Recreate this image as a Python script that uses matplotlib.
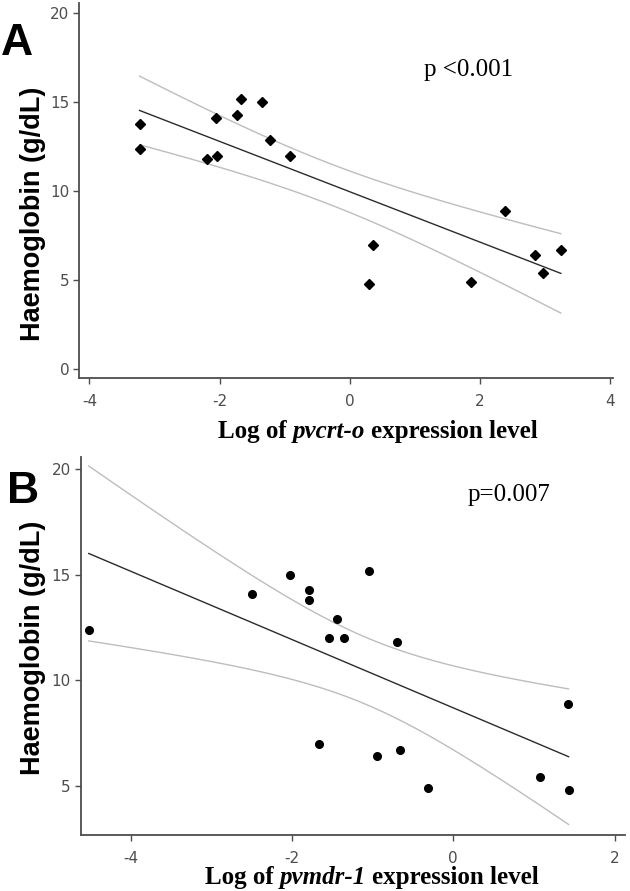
import numpy as np
import matplotlib.pyplot as plt

plt.rcParams['axes.unicode_minus'] = False

# panel A: log pvcrt-o expression vs haemoglobin
crt_x = [-3.23, -3.22, -2.20, -2.05, -2.04, -1.73, -1.67, -1.35, -1.22, -0.92,
         0.30, 0.36, 1.86, 2.39, 2.84, 2.97, 3.24]
crt_hb = [13.8, 12.4, 11.8, 14.1, 12.0, 14.3, 15.2, 15.0, 12.9, 12.0,
          4.8, 7.0, 4.9, 8.9, 6.4, 5.4, 6.7]

# panel B: log pvmdr-1 expression vs haemoglobin
mdr_x = [-4.52, -2.49, -2.03, -1.79, -1.79, -1.66, -1.54, -1.44, -1.35, -1.05,
         -0.94, -0.70, -0.66, -0.31, 1.07, 1.42, 1.43]
mdr_hb = [12.4, 14.1, 15.0, 14.3, 13.8, 7.0, 12.0, 12.9, 12.0, 15.2,
          6.4, 11.8, 6.7, 4.9, 5.4, 8.9, 4.8]

ticks_A_x = [-4, -2, 0, 2, 4]
ticks_A_y = [0, 5, 10, 15, 20]
ticks_B_x = [-4, -2, 0, 2]
ticks_B_y = [5, 10, 15, 20]

T_CRIT = 2.131  # t(0.975, df=15)

tick_font = ['Liberation Sans Narrow', 'DejaVu Sans']
axis_grey = '#4d4d4d'


def fit_band(x, y, n=120):
    x = np.asarray(x)
    y = np.asarray(y)
    slope, icpt = np.polyfit(x, y, 1)
    resid = y - (icpt + slope * x)
    s = np.sqrt(np.sum(resid ** 2) / (len(x) - 2))
    xs = np.linspace(x.min(), x.max(), n)
    yhat = icpt + slope * xs
    se = s * np.sqrt(1 / len(x) + (xs - x.mean()) ** 2 / np.sum((x - x.mean()) ** 2))
    return xs, yhat, yhat - T_CRIT * se, yhat + T_CRIT * se


def style_axes(ax, xt, yt, xlim, ylim):
    for side in ['top', 'right']:
        ax.spines[side].set_visible(False)
    for side in ['left', 'bottom']:
        ax.spines[side].set_color(axis_grey)
        ax.spines[side].set_linewidth(1.3)
    ax.set_xticks(xt)
    ax.set_yticks(yt)
    ax.set_xlim(*xlim)
    ax.set_ylim(*ylim)
    ax.tick_params(direction='out', length=4, width=1, color=axis_grey,
                   labelcolor=axis_grey, labelsize=11, pad=3)
    ax.tick_params(axis='x', pad=7)
    for lab in ax.get_xticklabels() + ax.get_yticklabels():
        lab.set_family(tick_font)


def draw_panel(ax, x, y, marker, ms):
    xs, yhat, lo, hi = fit_band(x, y)
    ax.plot(xs, hi, color='#bdbdbd', lw=1)
    ax.plot(xs, lo, color='#bdbdbd', lw=1)
    ax.plot(xs, yhat, color='#2b2b2b', lw=1)
    ax.plot(x, y, linestyle='none', marker=marker, ms=ms, color='black')


def xlabel(fig, gene, cx, base_y):
    # bold serif label with the gene name in bold italic, centred at cx (pixels)
    parts = [('Log of', 'normal'), (gene, 'italic'), ('expression level', 'normal')]
    gap = 6
    texts = []
    for s, st in parts:
        t = fig.text(0, base_y / 891, s, family='Liberation Serif', weight='bold',
                     style=st, size=18, va='baseline', ha='left')
        texts.append(t)
    r = fig.canvas.get_renderer()
    widths = [t.get_window_extent(r).width for t in texts]
    total = sum(widths) + gap * (len(texts) - 1)
    x0 = cx - total / 2
    for t, w in zip(texts, widths):
        t.set_x(x0 / 630)
        x0 += w + gap


fig = plt.figure(figsize=(6.3, 8.91), dpi=100)

axA = fig.add_axes([0.1259, 0.5754, 0.847, 0.4209])
draw_panel(axA, crt_x, crt_hb, 'D', 5.5)
style_axes(axA, ticks_A_x, ticks_A_y, (-4.155, 4.04), (-0.5, 20.56))
axA.text(1.83, 16.48, 'p <0.001', family='Liberation Serif', size=18,
         ha='center', va='baseline')

axB = fig.add_axes([0.1281, 0.0625, 0.864, 0.4249])
draw_panel(axB, mdr_x, mdr_hb, 'o', 5.5)
style_axes(axB, ticks_B_x, ticks_B_y, (-4.62, 2.13), (2.66, 20.6))
axB.text(0.69, 18.49, 'p=0.007', family='Liberation Serif', size=18,
         ha='center', va='baseline')

# y labels
fig.text(33 / 630, 1 - 214 / 891, 'Haemoglobin (g/dL)', rotation=90, family='Liberation Sans',
         weight='bold', size=19.5, ha='center', va='center')
fig.text(33 / 630, 1 - 648 / 891, 'Haemoglobin (g/dL)', rotation=90, family='Liberation Sans',
         weight='bold', size=19.5, ha='center', va='center')

# panel letters
fig.text(1 / 630, 1 - 55 / 891, 'A', family='Liberation Sans', weight='bold', size=32,
         va='baseline', ha='left')
fig.text(7 / 630, 1 - 503 / 891, 'B', family='Liberation Sans', weight='bold', size=32,
         va='baseline', ha='left')

xlabel(fig, 'pvcrt-o', 378, 891 - 438)
xlabel(fig, 'pvmdr-1', 371.5, 891 - 884)

fig.savefig('out.png', dpi=100)
